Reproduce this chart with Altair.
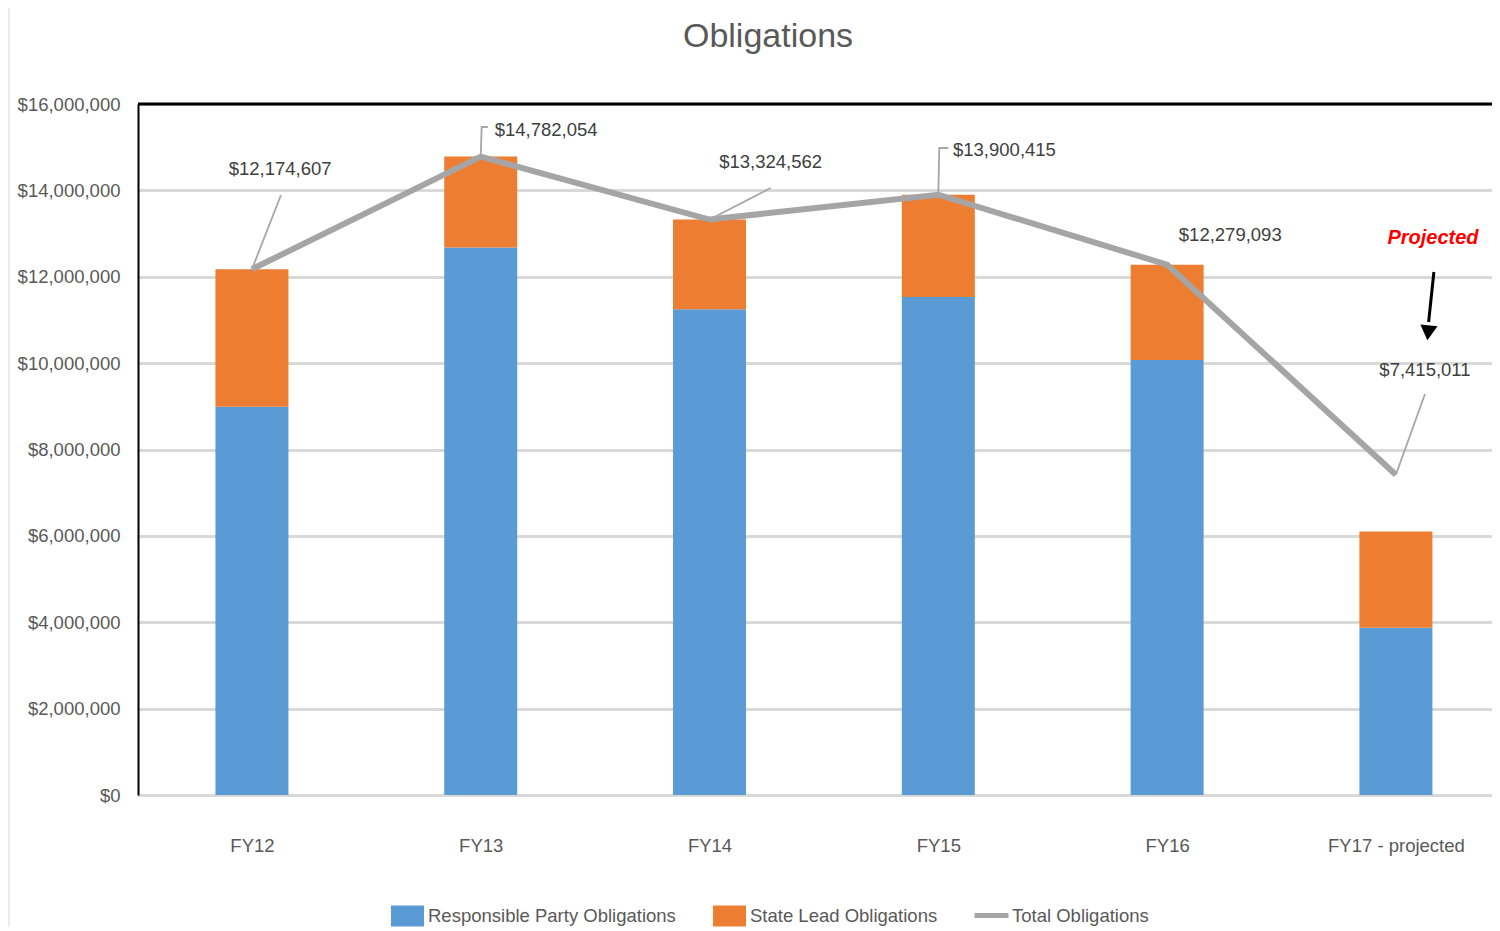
import altair as alt
import pandas as pd

# ---------------- data ----------------
categories = ["FY12", "FY13", "FY14", "FY15", "FY16", "FY17 - projected"]
responsible_party = [8990000, 12680000, 11250000, 11530000, 10070000, 3870000]
state_lead = [3184607, 2102054, 2074562, 2370415, 2209093, 2230000]
total_obligations = [12174607, 14782054, 13324562, 13900415, 12279093, 7415011]
total_labels = ["$12,174,607", "$14,782,054", "$13,324,562", "$13,900,415",
                "$12,279,093", "$7,415,011"]
y_ticks = [0, 2000000, 4000000, 6000000, 8000000, 10000000, 12000000, 14000000, 16000000]
series_names = ["Responsible Party Obligations", "State Lead Obligations", "Total Obligations"]
chart_title = "Obligations"
projected_note = "Projected"

# annotation layout (offsets from each point, in category units / dollars)
label_x_off = [0.123, 0.286, 0.267, 0.289, 0.276, 0.127]
label_y = [14495000, 15398000, 14657000, 14935000, 12967000, 9841000]
# leader polylines: list of (x offset, y) after the data point
leaders = {
    0: [(0.127, 13893000)],
    1: [(0.004, 15468000), (0.031, 15468000)],
    2: [(0.267, 14055000)],
    3: [(0.004, 14981000), (0.044, 14981000)],
    5: [(0.127, 9285000)],
}

FONT = "Liberation Sans"
BLUE, ORANGE, GRAY = "#5b9bd5", "#ed7d31", "#a5a5a5"
W, H = 1354, 691

# ---------------- tables ----------------
bars_rows = []
for i, c in enumerate(categories):
    bars_rows.append({"idx": i, "series": series_names[0], "value": responsible_party[i], "ord": 0})
    bars_rows.append({"idx": i, "series": series_names[1], "value": state_lead[i], "ord": 1})
bars_df = pd.DataFrame(bars_rows)

line_df = pd.DataFrame({"idx": list(range(len(categories))),
                        "total": total_obligations,
                        "series": series_names[2]})

lab_df = pd.DataFrame({"x": [i + label_x_off[i] for i in range(len(categories))],
                       "y": label_y, "text": total_labels})

lead_rows = []
for i, pts in leaders.items():
    lead_rows.append({"g": i, "o": 0, "x": i, "y": total_obligations[i]})
    for k, (dx, yy) in enumerate(pts):
        lead_rows.append({"g": i, "o": k + 1, "x": i + dx, "y": yy})
lead_df = pd.DataFrame(lead_rows)

proj_text_df = pd.DataFrame({"x": [5.162], "y": [12897000], "text": [projected_note]})
arrow_df = pd.DataFrame({"x": [5.166], "y": [12110000], "x2": [5.143], "y2": [10952000]})
head_df = pd.DataFrame({"x": [5.141], "y": [10700000]})

x_scale = alt.Scale(domain=[-0.498, 5.42], nice=False, zero=False, padding=0)
y_scale = alt.Scale(domain=[0, 16000000], nice=False, padding=0)

cat_js = "[" + ",".join("'" + c + "'" for c in categories) + "]"

x_axis = alt.Axis(values=list(range(len(categories))), labelExpr=cat_js + "[datum.value]",
                  title=None, grid=False, ticks=False, domainColor="#d9d9d9", domainWidth=3,
                  labelFont=FONT, labelFontSize=18.5, labelColor="#595959", labelPadding=41)
y_axis = alt.Axis(values=y_ticks, labelExpr="'$' + format(datum.value, ',')", title=None,
                  grid=True, gridColor="#d9d9d9", gridWidth=3, ticks=False,
                  domainColor="#000000", domainWidth=2,
                  labelFont=FONT, labelFontSize=18.5, labelColor="#595959", labelPadding=18)

bars = alt.Chart(bars_df).mark_bar(size=73).encode(
    x=alt.X("idx:Q", scale=x_scale, axis=x_axis),
    y=alt.Y("value:Q", stack="zero", scale=y_scale, axis=y_axis),
    fill=alt.Fill("series:N",
                  scale=alt.Scale(domain=series_names[:2], range=[BLUE, ORANGE]),
                  legend=alt.Legend(title=None, orient="none", legendX=253, legendY=795,
                                    direction="horizontal", symbolType="M-1,-0.64H1V0.64H-1Z",
                                    symbolSize=1089, symbolStrokeWidth=0, labelFont=FONT,
                                    labelFontSize=18.5, labelColor="#595959", labelOffset=4,
                                    columnPadding=37, padding=0, labelLimit=400)),
    order=alt.Order("ord:Q"),
)

top_border = alt.Chart(pd.DataFrame({"v": [y_ticks[-1]]})).mark_rule(
    color="#000000", strokeWidth=3).encode(
    y=alt.Y("v:Q", scale=y_scale), x=alt.value(0), x2=alt.value(W))

outer_border = alt.Chart(pd.DataFrame({"v": [0]})).mark_rule(
    color="#d9d9d9", strokeWidth=1).encode(
    x=alt.value(-129), y=alt.value(-96), y2=alt.value(H + 132))

line = alt.Chart(line_df).mark_line(strokeWidth=6, strokeJoin="miter").encode(
    x=alt.X("idx:Q", scale=x_scale),
    y=alt.Y("total:Q", scale=y_scale),
    stroke=alt.Stroke("series:N",
                      scale=alt.Scale(domain=[series_names[2]], range=[GRAY]),
                      legend=alt.Legend(title=None, orient="none", legendX=834, legendY=792,
                                        direction="horizontal", symbolType="stroke",
                                        symbolSize=1156, symbolStrokeWidth=5,
                                        labelFont=FONT, labelFontSize=18.5,
                                        labelColor="#595959", labelOffset=1, padding=0,
                                        labelLimit=400)),
)

lead = alt.Chart(lead_df).mark_line(color="#a6a6a6", strokeWidth=1.8).encode(
    x=alt.X("x:Q", scale=x_scale), y=alt.Y("y:Q", scale=y_scale),
    detail="g:N", order="o:Q")

labels = alt.Chart(lab_df).mark_text(font=FONT, fontSize=18.5, color="#404040",
                                     baseline="middle", align="center").encode(
    x=alt.X("x:Q", scale=x_scale), y=alt.Y("y:Q", scale=y_scale), text="text:N")

proj_text = alt.Chart(proj_text_df).mark_text(font=FONT, fontSize=20, fontWeight="bold",
                                              fontStyle="italic", color="#ff0000",
                                              baseline="middle", align="center").encode(
    x=alt.X("x:Q", scale=x_scale), y=alt.Y("y:Q", scale=y_scale), text="text:N")

arrow = alt.Chart(arrow_df).mark_rule(color="#000000", strokeWidth=3).encode(
    x=alt.X("x:Q", scale=x_scale), y=alt.Y("y:Q", scale=y_scale),
    x2="x2:Q", y2="y2:Q")

head = alt.Chart(head_df).mark_point(shape="triangle-down", filled=True, color="#000000",
                                     size=300, angle=6, opacity=1).encode(
    x=alt.X("x:Q", scale=x_scale), y=alt.Y("y:Q", scale=y_scale))

title = alt.Chart(pd.DataFrame({"t": [chart_title]})).mark_text(
    font=FONT, fontSize=34, color="#595959", align="center", baseline="alphabetic").encode(
    text="t:N", x=alt.value(630), y=alt.value(-57))

chart = alt.layer(bars, top_border, outer_border, line, lead, labels, proj_text, arrow, head,
                  title).properties(
    width=W, height=H,
    autosize=alt.AutoSizeParams(type="none"),
    padding={"left": 130, "top": 96, "right": 0, "bottom": 132},
).configure_view(stroke=None)

chart.save("out.html", embed_options={"renderer": "svg", "actions": False})
